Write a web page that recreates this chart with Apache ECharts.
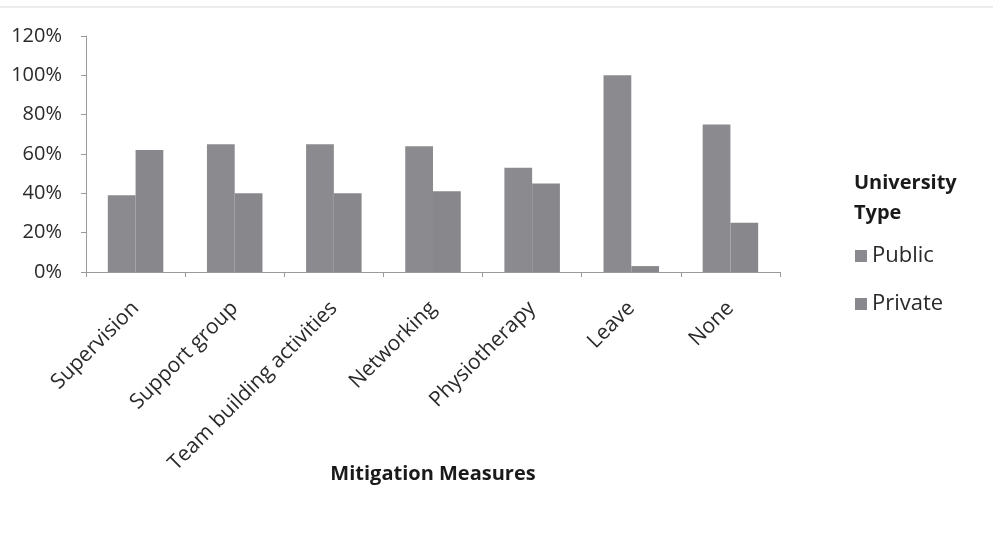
<!DOCTYPE html>
<html><head><meta charset="utf-8">
<script src="https://cdn.jsdelivr.net/npm/echarts@6/dist/echarts.min.js"></script>
<style>html,body{margin:0;padding:0;background:#fff}#c{width:993px;height:542px}</style>
</head><body><div id="c"></div>
<script>
const categories = ["Supervision","Support group","Team building activities","Networking","Physiotherapy","Leave","None"];
const publicValues = [39, 65, 65, 64, 53, 100, 75];
const privateValues = [62, 40, 40, 41, 45, 3, 25];
const seriesNames = ["Public","Private"];
const yTicks = [0, 20, 40, 60, 80, 100, 120];

const FONT = "'Open Sans', sans-serif";
const chart = echarts.init(document.getElementById('c'));
chart.setOption({
  backgroundColor: '#fff',
  animation: false,
  title: {
    text: 'University\nType',
    left: 849, top: 163,
    textStyle: {fontFamily: FONT, fontSize: 20, fontWeight: 'bold', color: '#1a1a1a', lineHeight: 30}
  },
  legend: {
    data: seriesNames,
    orient: 'vertical',
    left: 850, top: 240,
    itemWidth: 12, itemHeight: 12, itemGap: 26,
    icon: 'rect',
    textStyle: {fontFamily: FONT, fontSize: 22, color: '#2a2a2a'}
  },
  graphic: [{type:'line', shape:{x1:0,y1:7,x2:993,y2:7}, style:{stroke:'#d8dcdc', lineWidth:1}}],
  grid: {left: 86, right: 213, top: 36, bottom: 270, containLabel: false},
  xAxis: {
    type: 'category',
    data: categories,
    name: 'Mitigation Measures',
    nameLocation: 'middle',
    nameGap: 192,
    nameMoveOverlap: false,
    nameTextStyle: {fontFamily: FONT, fontSize: 20, fontWeight: 'bold', color: '#1a1a1a'},
    axisLine: {lineStyle: {color: '#9a9a9a'}},
    axisTick: {show: true, length: 5, lineStyle: {color: '#9a9a9a'}},
    axisLabel: {rotate: 45, fontFamily: FONT, fontSize: 21, color: '#2a2a2a', margin: 33, interval: 0}
  },
  yAxis: {
    type: 'value',
    min: 0, max: 120, interval: 20,
    axisLine: {show: true, lineStyle: {color: '#9a9a9a'}},
    axisTick: {show: true, length: 5, lineStyle: {color: '#9a9a9a'}},
    splitLine: {show: false},
    axisLabel: {fontFamily: FONT, fontSize: 20, color: '#2a2a2a', margin: 24,
      formatter: v => yTicks.includes(v) ? v + '%' : ''}
  },
  series: [
    {name: seriesNames[0], type: 'bar', data: publicValues, barGap: '0%', barCategoryGap: '44%',
     itemStyle: {color: '#8b8b8f'}},
    {name: seriesNames[1], type: 'bar', data: privateValues,
     itemStyle: {color: '#88888c'}}
  ]
});
</script></body></html>
